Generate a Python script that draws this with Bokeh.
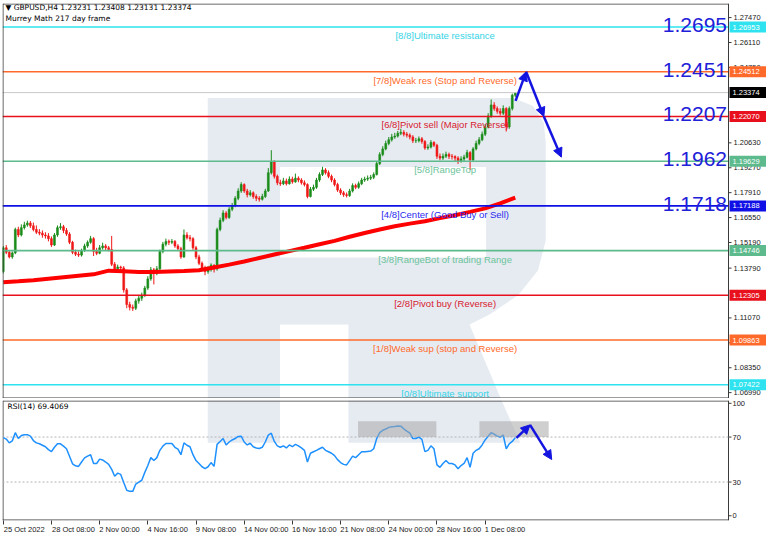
from bokeh.plotting import figure
from bokeh.layouts import column
from bokeh.models import (ColumnDataSource, Label, Span, FixedTicker, Arrow, NormalHead,
                          BoxAnnotation, Range1d, LinearAxis)
from bokeh.core.properties import value
from bokeh.embed import file_html
from bokeh.resources import INLINE

# ---------------- data ----------------
first_open = 1.1360
closes = [
    1.1490, 1.1465, 1.1440, 1.1462, 1.1590, 1.1560, 1.1600, 1.1615, 1.1625, 1.1610,
    1.1590, 1.1575, 1.1570, 1.1560, 1.1555, 1.1540, 1.1505, 1.1560, 1.1600, 1.1605,
    1.1585, 1.1565, 1.1520, 1.1465, 1.1455, 1.1450, 1.1475, 1.1500, 1.1520, 1.1540,
    1.1470, 1.1460, 1.1490, 1.1500, 1.1490, 1.1480, 1.1400, 1.1370, 1.1385, 1.1380,
    1.1260, 1.1180, 1.1165, 1.1160, 1.1200, 1.1215, 1.1230, 1.1270, 1.1320, 1.1370,
    1.1350, 1.1375, 1.1470, 1.1510, 1.1525, 1.1520, 1.1525, 1.1500, 1.1485, 1.1440,
    1.1560, 1.1545, 1.1540, 1.1490, 1.1440, 1.1405, 1.1380, 1.1360, 1.1375, 1.1395,
    1.1375, 1.1590, 1.1640, 1.1680, 1.1655, 1.1700, 1.1720, 1.1760, 1.1800, 1.1835,
    1.1800, 1.1780, 1.1790, 1.1770, 1.1760, 1.1755, 1.1770, 1.1800, 1.1900, 1.1960,
    1.1880, 1.1845, 1.1840, 1.1855, 1.1840, 1.1865, 1.1850, 1.1870, 1.1860, 1.1845,
    1.1835, 1.1770, 1.1810, 1.1820, 1.1860, 1.1890, 1.1915, 1.1900, 1.1880, 1.1860,
    1.1835, 1.1805, 1.1790, 1.1780, 1.1775, 1.1800, 1.1830, 1.1820, 1.1840, 1.1860,
    1.1865, 1.1870, 1.1875, 1.1890, 1.1950, 1.2000, 1.2030, 1.2060, 1.2080, 1.2095,
    1.2100, 1.2115, 1.2120, 1.2110, 1.2105, 1.2095, 1.2075, 1.2075, 1.2085, 1.2070,
    1.2035, 1.2040, 1.2065, 1.2050, 1.1990, 1.1980, 1.1990, 1.2000, 1.1990, 1.1988,
    1.1980, 1.1965, 1.1975, 1.1985, 1.2010, 1.1970, 1.2030, 1.2060, 1.2080, 1.2110,
    1.2150, 1.2210, 1.2270, 1.2250, 1.2235, 1.2225, 1.2250, 1.2150, 1.2250, 1.23231,
    1.23374]
highs = [
    1.1500, 1.1505, 1.1478, 1.1470, 1.1600, 1.1605, 1.1618, 1.1632, 1.1638, 1.1636,
    1.1628, 1.1612, 1.1592, 1.1585, 1.1575, 1.1570, 1.1552, 1.1570, 1.1612, 1.1625,
    1.1615, 1.1598, 1.1575, 1.1528, 1.1480, 1.1470, 1.1485, 1.1512, 1.1530, 1.1555,
    1.1548, 1.1490, 1.1505, 1.1518, 1.1510, 1.1500, 1.1555, 1.1412, 1.1398, 1.1392,
    1.1390, 1.1270, 1.1195, 1.1180, 1.1212, 1.1228, 1.1245, 1.1282, 1.1335, 1.1385,
    1.1380, 1.1390, 1.1480, 1.1522, 1.1540, 1.1535, 1.1538, 1.1532, 1.1510, 1.1495,
    1.1590, 1.1575, 1.1560, 1.1548, 1.1500, 1.1452, 1.1415, 1.1392, 1.1390, 1.1405,
    1.1400, 1.1600, 1.1655, 1.1695, 1.1690, 1.1712, 1.1735, 1.1772, 1.1815, 1.1848,
    1.1842, 1.1812, 1.1805, 1.1798, 1.1782, 1.1772, 1.1785, 1.1812, 1.1925, 1.2023,
    1.1968, 1.1890, 1.1862, 1.1872, 1.1868, 1.1880, 1.1878, 1.1895, 1.1880, 1.1870,
    1.1858, 1.1842, 1.1822, 1.1835, 1.1872, 1.1902, 1.1932, 1.1925, 1.1912, 1.1890,
    1.1870, 1.1845, 1.1815, 1.1800, 1.1792, 1.1812, 1.1842, 1.1840, 1.1852, 1.1872,
    1.1878, 1.1885, 1.1888, 1.1902, 1.1962, 1.2012, 1.2045, 1.2075, 1.2095, 1.2112,
    1.2118, 1.2128, 1.2140, 1.2132, 1.2122, 1.2115, 1.2105, 1.2090, 1.2098, 1.2095,
    1.2078, 1.2055, 1.2078, 1.2072, 1.2058, 1.2005, 1.2005, 1.2015, 1.2010, 1.2002,
    1.1995, 1.1990, 1.1990, 1.1998, 1.2025, 1.2018, 1.2040, 1.2075, 1.2095, 1.2125,
    1.2165, 1.2225, 1.2300, 1.2285, 1.2262, 1.2252, 1.2268, 1.2258, 1.2262, 1.2332,
    1.23408]
lows = [
    1.1350, 1.1455, 1.1432, 1.1430, 1.1455, 1.1548, 1.1552, 1.1590, 1.1605, 1.1598,
    1.1580, 1.1565, 1.1558, 1.1545, 1.1540, 1.1525, 1.1495, 1.1500, 1.1550, 1.1588,
    1.1570, 1.1555, 1.1510, 1.1455, 1.1445, 1.1440, 1.1442, 1.1468, 1.1490, 1.1512,
    1.1445, 1.1450, 1.1455, 1.1480, 1.1478, 1.1470, 1.1390, 1.1360, 1.1362, 1.1368,
    1.1245, 1.1160, 1.1148, 1.1145, 1.1150, 1.1185, 1.1200, 1.1222, 1.1260, 1.1310,
    1.1290, 1.1340, 1.1368, 1.1460, 1.1498, 1.1505, 1.1510, 1.1490, 1.1472, 1.1430,
    1.1435, 1.1535, 1.1525, 1.1478, 1.1428, 1.1395, 1.1365, 1.1340, 1.1348, 1.1360,
    1.1355, 1.1365, 1.1580, 1.1630, 1.1645, 1.1648, 1.1690, 1.1712, 1.1750, 1.1790,
    1.1790, 1.1765, 1.1770, 1.1758, 1.1745, 1.1742, 1.1748, 1.1762, 1.1795, 1.1890,
    1.1868, 1.1832, 1.1828, 1.1832, 1.1830, 1.1835, 1.1840, 1.1845, 1.1848, 1.1835,
    1.1825, 1.1760, 1.1765, 1.1800, 1.1812, 1.1850, 1.1882, 1.1890, 1.1870, 1.1848,
    1.1825, 1.1795, 1.1778, 1.1768, 1.1765, 1.1768, 1.1792, 1.1810, 1.1812, 1.1832,
    1.1850, 1.1855, 1.1860, 1.1865, 1.1885, 1.1942, 1.1990, 1.2022, 1.2050, 1.2070,
    1.2085, 1.2092, 1.2105, 1.2098, 1.2092, 1.2082, 1.2062, 1.2062, 1.2065, 1.2058,
    1.2025, 1.2025, 1.2032, 1.2040, 1.1975, 1.1968, 1.1970, 1.1980, 1.1975, 1.1972,
    1.1960, 1.1948, 1.1955, 1.1962, 1.1978, 1.1915, 1.1962, 1.2022, 1.2050, 1.2072,
    1.2100, 1.2142, 1.2200, 1.2238, 1.2222, 1.2212, 1.2215, 1.2125, 1.2140, 1.2240,
    1.23131]

# moving average (sampled every 5 bars)
ma_bars = list(range(0, 171, 5))
ma_vals = [1.1302, 1.1307, 1.1313, 1.1321, 1.1329, 1.1337, 1.1345, 1.1365, 1.1362, 1.1358,
           1.1358, 1.1361, 1.1363, 1.1367, 1.1382, 1.1398, 1.1415, 1.1434, 1.1453, 1.1472,
           1.1490, 1.1509, 1.1528, 1.1550, 1.1571, 1.1590, 1.1608, 1.1622, 1.1635, 1.1652,
           1.1668, 1.1686, 1.1705, 1.1732, 1.1764]

rsi = [
    69.5, 68.2, 64.8, 66.6, 73.9, 68.7, 71.3, 72.1, 72.1, 70.8,
    66.9, 64.8, 64.0, 62.7, 61.4, 58.8, 57.0, 60.9, 64.0, 64.0,
    61.9, 59.6, 53.0, 46.2, 44.4, 43.9, 47.8, 51.5, 53.0, 54.3,
    46.5, 46.5, 50.4, 49.6, 47.8, 45.7, 41.3, 35.2, 37.9, 36.8,
    29.5, 22.7, 21.7, 21.7, 28.2, 30.0, 31.6, 38.6, 44.7, 51.7,
    49.1, 51.7, 58.2, 61.9, 64.3, 64.3, 64.3, 60.9, 59.3, 54.3,
    64.8, 62.7, 61.4, 54.3, 49.1, 46.5, 43.6, 42.0, 43.6, 47.3,
    43.9, 63.5, 66.1, 68.7, 63.0, 65.6, 67.4, 68.7, 70.5, 70.8,
    65.6, 63.0, 64.5, 61.4, 60.3, 59.8, 60.9, 65.6, 71.8, 73.4,
    66.1, 62.2, 60.9, 62.2, 60.3, 63.0, 61.4, 63.5, 62.2, 60.3,
    58.2, 47.8, 55.6, 56.9, 58.2, 59.6, 60.9, 58.2, 56.9, 55.6,
    53.5, 49.9, 47.3, 45.7, 45.2, 49.1, 53.0, 51.7, 54.3, 56.9,
    56.9, 57.2, 57.5, 59.6, 68.7, 73.9, 76.0, 77.1, 78.6, 79.2,
    79.4, 79.9, 79.7, 77.3, 75.2, 73.4, 68.7, 68.7, 70.0, 67.9,
    57.0, 58.2, 62.2, 59.6, 45.2, 43.1, 46.5, 49.1, 46.5, 46.5,
    45.2, 41.8, 44.7, 46.5, 51.7, 43.1, 55.6, 58.2, 59.6, 63.0,
    67.4, 70.8, 73.9, 72.6, 70.8, 70.0, 71.8, 59.6, 64.0, 66.1,
    69.4]

murrey_levels = [1.26953, 1.24512, 1.22070, 1.19629, 1.17188, 1.14746, 1.12305, 1.09863, 1.07422]
murrey_texts = ["[8/8]Ultimate resistance", "[7/8]Weak res (Stop and Reverse)",
                "[6/8]Pivot sell (Major Reverse)", "[5/8]RangeTop",
                "[4/8]Center (Good Buy or Sell)", "[3/8]RangeBot of trading Range",
                "[2/8]Pivot buy (Reverse)", "[1/8]Weak sup (stop and Reverse)",
                "[0/8]Ultimate support"]
murrey_tags = ["1.26953", "1.24512", "1.22070", "1.19629", "1.17188", "1.14746",
               "1.12305", "1.09863", "1.07422"]
big_labels = ["1.2695", "1.2451", "1.2207", "1.1962", "1.1718"]
current_price = 1.23374
current_tag = "1.23374"

price_ticks = [1.2747, 1.2611, 1.2475, 1.2063, 1.1927, 1.1791, 1.1655, 1.1519,
               1.1379, 1.1107, 1.0971, 1.0835, 1.0699]
price_tick_labels = ["1.27470", "1.26110", "1.24750", "1.20630", "1.19270", "1.17910",
                     "1.16550", "1.15190", "1.13790", "1.11070", "1.09710", "1.08350",
                     "1.06990"]
rsi_ticks = [0, 30, 70, 100]
rsi_tick_labels = ["0", "30", "70", "100"]
rsi_levels = [30, 70]

time_ticks = [0, 16, 32, 48, 64, 80, 96, 112, 128, 144, 160]
time_labels = ["25 Oct 2022", "28 Oct 08:00", "2 Nov 00:00", "4 Nov 16:00", "9 Nov 08:00",
               "14 Nov 00:00", "16 Nov 16:00", "21 Nov 08:00", "24 Nov 00:00",
               "28 Nov 16:00", "1 Dec 08:00"]

# forecast arrows (bar, value)
price_arrow_x = [170.1, 173.6, 179.5, 185.3]
price_arrow_y = [1.2292, 1.2451, 1.2207, 1.1985]
rsi_arrow_x = [170.4, 174.9, 182.1]
rsi_arrow_y = [69.2, 80.8, 50.0]
# overbought zones on RSI (bar range)
zone_left = [117.8, 158.1]
zone_right = [143.8, 181.1]
zone_bottom = 70
zone_top = 84

# ---------------- style ----------------
FONT = "Liberation Sans"
FS = "7.5px"
BULL = "#1a8c1a"
BEAR = "#f01818"
murrey_line_colors = ["#2ee3ef", "#ff6a2a", "#e8101c", "#5cba8c", "#1010e6",
                      "#5cba8c", "#e8101c", "#ff6a2a", "#2ee3ef"]
murrey_text_colors = ["#35d4e6", "#ff6a2a", "#d8202e", "#6cc49a", "#2a2af0",
                      "#6cc49a", "#d8202e", "#ff6a2a", "#35d4e6"]
BIG_BLUE = "#2020d8"
ARROW_BLUE = "#1414e0"
FRAME = "#3a3a3a"
LOGO = "#e6ebf2"

W = 766
LEFT = 2
AXIS_W = 38                      # width of the price-scale strip on the right
CHART_W = W - LEFT - AXIS_W      # width of the chart area (left of the scale)
H1, TOP1 = 398, 3
H2, TOP2, BOT2 = 138, 2, 14
FRAME_H1 = H1 - TOP1
FRAME_H2 = H2 - TOP2 - BOT2 - 2

X0, X1 = -0.25, 240.8            # chart area in bars
PX_PER_BAR = CHART_W / (X1 - X0)
XE = X1 + AXIS_W / PX_PER_BAR    # right edge including the price scale
Y0, Y1 = 1.0667, 1.2824
R0, R1 = -4.2, 102.5


def dx(px):
    return px / PX_PER_BAR


def dyp(px):
    return px * (Y1 - Y0) / FRAME_H1


def dyr(px):
    return px * (R1 - R0) / FRAME_H2


# reference-pixel helpers (for decoration / text placement only)
def px2bar(px):
    return (px - 2.7) / 3.083


def py2price(py):
    return 1.26953 - (py - 28) / 1858.6


def py2rsi(py):
    return 100 - (py - 410) / 1.2


def text_half_width_bars(s, size=7.5):
    em = 0.0
    for ch in s:
        if ch.isdigit():
            em += 0.556
        elif ch in " :":
            em += 0.278
        elif ch.isupper():
            em += 0.70
        else:
            em += 0.50
    return em * size / 2 / PX_PER_BAR


# ---------------- figures ----------------
p1 = figure(width=W, height=H1, output_backend="svg", toolbar_location=None,
            x_range=Range1d(X0, XE), y_range=Range1d(Y0, Y1),
            x_axis_location=None, y_axis_location=None,
            min_border_left=LEFT, min_border_right=0, min_border_top=TOP1, min_border_bottom=0)
p2 = figure(width=W, height=H2, output_backend="svg", toolbar_location=None,
            x_range=p1.x_range, y_range=Range1d(R0, R1),
            y_axis_location=None,
            min_border_left=LEFT, min_border_right=0, min_border_top=TOP2, min_border_bottom=BOT2)

for p in (p1, p2):
    p.grid.visible = False
    p.outline_line_color = None
    p.background_fill_color = "white"
    p.border_fill_color = "white"

# time axis: tick marks at the bars, labels starting at the tick (MT4 style)
xa = p2.xaxis[0]
xa.ticker = FixedTicker(ticks=time_ticks)
xa.major_label_overrides = {t: "" for t in time_ticks}
xa.major_label_standoff = 0
xa.major_label_text_font_size = "1px"
xa.axis_line_color = None
xa.major_tick_line_color = FRAME
xa.major_tick_out = 4
xa.major_tick_in = 0
xa.minor_tick_line_color = None

label_pos = [t + text_half_width_bars(s) for t, s in zip(time_ticks, time_labels)]
xl = LinearAxis(ticker=FixedTicker(ticks=label_pos),
                major_label_overrides={pos: s for pos, s in zip(label_pos, time_labels)})
xl.axis_line_color = None
xl.major_tick_line_color = None
xl.major_tick_out = 0
xl.major_tick_in = 0
xl.minor_tick_line_color = None
xl.major_label_standoff = 0
xl.major_label_text_font = FONT
xl.major_label_text_font_size = FS
xl.major_label_text_color = "#202020"
p2.add_layout(xl, "below")

# ---- watermark logo (decoration, defined in reference pixels) ----
logo_px = [212, 525, 545, 556, 558, 558, 550, 530, 500, 480, 532, 356, 356, 286, 286, 212]
logo_py = [100, 100, 108, 125, 145, 245, 275, 300, 320, 330, 452, 452, 330, 330, 452, 452]
counter_px = [286, 497, 497, 286]
counter_py = [170, 170, 262, 262]
p1.patch([px2bar(v) for v in logo_px], [py2price(v) for v in logo_py],
         fill_color=LOGO, line_color=None)
p1.patch([px2bar(v) for v in counter_px], [py2price(v) for v in counter_py],
         fill_color="white", line_color=None)
p2.patch([px2bar(v) for v in logo_px], [py2rsi(v) for v in logo_py],
         fill_color=LOGO, line_color=None)

# ---- candles ----
opens = [first_open] + closes[:-1]
bars = list(range(len(closes)))
cols = [BULL if c >= o else BEAR for o, c in zip(opens, closes)]
src = ColumnDataSource(dict(
    x=bars, h=highs, l=lows, color=cols,
    top=[max(o, c) for o, c in zip(opens, closes)],
    bottom=[min(o, c) for o, c in zip(opens, closes)]))
p1.segment(x0="x", y0="h", x1="x", y1="l", line_color="color", line_width=1, source=src)
p1.vbar(x="x", width=0.62, top="top", bottom="bottom", fill_color="color",
        line_color="color", line_width=0.6, source=src)

# ---- moving average ----
p1.line(ma_bars, ma_vals, line_color="#ff0000", line_width=4)

# ---- current price line ----
p1.segment(x0=[X0], y0=[current_price], x1=[X1], y1=[current_price],
           line_color="#c8c8c8", line_width=1)

# ---- Murrey Math lines and texts ----
p1.segment(x0=[X0] * len(murrey_levels), y0=murrey_levels,
           x1=[X1] * len(murrey_levels), y1=murrey_levels,
           line_color=murrey_line_colors, line_width=1.6)
for lvl, tc, txt in zip(murrey_levels, murrey_text_colors, murrey_texts):
    p1.add_layout(Label(x=px2bar(455), y=lvl - dyp(3), text=txt, text_align="center",
                        text_baseline="top", text_color=tc, text_font=FONT,
                        text_font_size="9.5px"))

for lvl, txt in zip(murrey_levels[:5], big_labels):
    p1.add_layout(Label(x=X1 - dx(1.5), y=lvl + dyp(2), text=txt, text_align="right",
                        text_baseline="alphabetic", text_color=BIG_BLUE, text_font=FONT,
                        text_font_size="21px"))

# ---- chart frames (stop at the price scale) ----
for p, ya, yb, dyf in ((p1, Y0, Y1, dyp), (p2, R0, R1, dyr)):
    p.segment(x0=[X0 + dx(0.5), X0 + dx(0.5), X1, X0], y0=[ya, yb - dyf(0.5), ya, ya + dyf(0.5)],
              x1=[X0 + dx(0.5), X1, X1, X1], y1=[yb, yb - dyf(0.5), yb, ya + dyf(0.5)],
              line_color=FRAME, line_width=1)

# ---- price scale (drawn in the strip right of the chart) ----
p1.segment(x0=[X1] * len(price_ticks), y0=price_ticks,
           x1=[X1 + dx(3)] * len(price_ticks), y1=price_ticks, line_color=FRAME, line_width=1)
p1.text(x=[X1 + dx(5)] * len(price_ticks), y=price_ticks, text=price_tick_labels,
        text_align="left", text_baseline="middle", text_color="#202020",
        text_font=value(FONT), text_font_size=value(FS))

tag_levels = murrey_levels + [current_price]
tag_texts = murrey_tags + [current_tag]
tag_colors = murrey_line_colors + ["#000000"]
p1.quad(left=[X1 + dx(1)] * len(tag_levels), right=[XE] * len(tag_levels),
        top=[v + dyp(5.5) for v in tag_levels], bottom=[v - dyp(5.5) for v in tag_levels],
        fill_color=tag_colors, line_color=None)
p1.text(x=[X1 + dx(4)] * len(tag_levels), y=tag_levels, text=tag_texts,
        text_align="left", text_baseline="middle", text_color="white",
        text_font=value(FONT), text_font_size=value(FS))

# ---- header ----
p1.add_layout(Label(x=X0 + dx(3), y=py2price(8), text="\u25BC GBPUSD,H4  1.23231 1.23408 1.23131 1.23374",
                    text_baseline="middle", text_color="#000000", text_font="DejaVu Sans",
                    text_font_size="7.5px"))
p1.add_layout(Label(x=X0 + dx(3), y=py2price(19), text="Murrey Math 217 day frame",
                    text_baseline="middle", text_color="#000000", text_font="DejaVu Sans",
                    text_font_size="7.5px"))

# ---- price forecast arrows ----
head = dict(size=9, fill_color=ARROW_BLUE, line_color=ARROW_BLUE)
for i in range(3):
    p1.add_layout(Arrow(end=NormalHead(**head), x_start=price_arrow_x[i], y_start=price_arrow_y[i],
                        x_end=price_arrow_x[i + 1], y_end=price_arrow_y[i + 1],
                        line_color=ARROW_BLUE, line_width=2.5))

# ---------------- RSI panel ----------------
p2.segment(x0=[X0] * len(rsi_levels), y0=rsi_levels, x1=[X1] * len(rsi_levels), y1=rsi_levels,
           line_color="#b4b4b4", line_width=1, line_dash="2 2")
for l, r in zip(zone_left, zone_right):
    p2.add_layout(BoxAnnotation(left=l, right=r, bottom=zone_bottom, top=zone_top,
                                fill_color="#a8a8a8", fill_alpha=0.55, line_color=None))
p2.line(list(range(len(rsi))), rsi, line_color="#1e90ff", line_width=1.5)
p2.add_layout(Label(x=X0 + dx(5), y=py2rsi(413), text="RSI(14) 69.4069", text_baseline="middle",
                    text_color="#000000", text_font="DejaVu Sans", text_font_size="7.5px"))
for i in range(2):
    p2.add_layout(Arrow(end=NormalHead(**head), x_start=rsi_arrow_x[i], y_start=rsi_arrow_y[i],
                        x_end=rsi_arrow_x[i + 1], y_end=rsi_arrow_y[i + 1],
                        line_color=ARROW_BLUE, line_width=2.5))

# RSI scale
p2.segment(x0=[X1] * len(rsi_ticks), y0=rsi_ticks, x1=[X1 + dx(3)] * len(rsi_ticks),
           y1=rsi_ticks, line_color=FRAME, line_width=1)
p2.text(x=[X1 + dx(4)] * len(rsi_ticks), y=rsi_ticks, text=rsi_tick_labels,
        text_align="left", text_baseline="middle", text_color="#202020",
        text_font=value(FONT), text_font_size=value(FS))

layout = column(p1, p2, spacing=0)
open("out.html", "w").write(file_html(layout, INLINE))
